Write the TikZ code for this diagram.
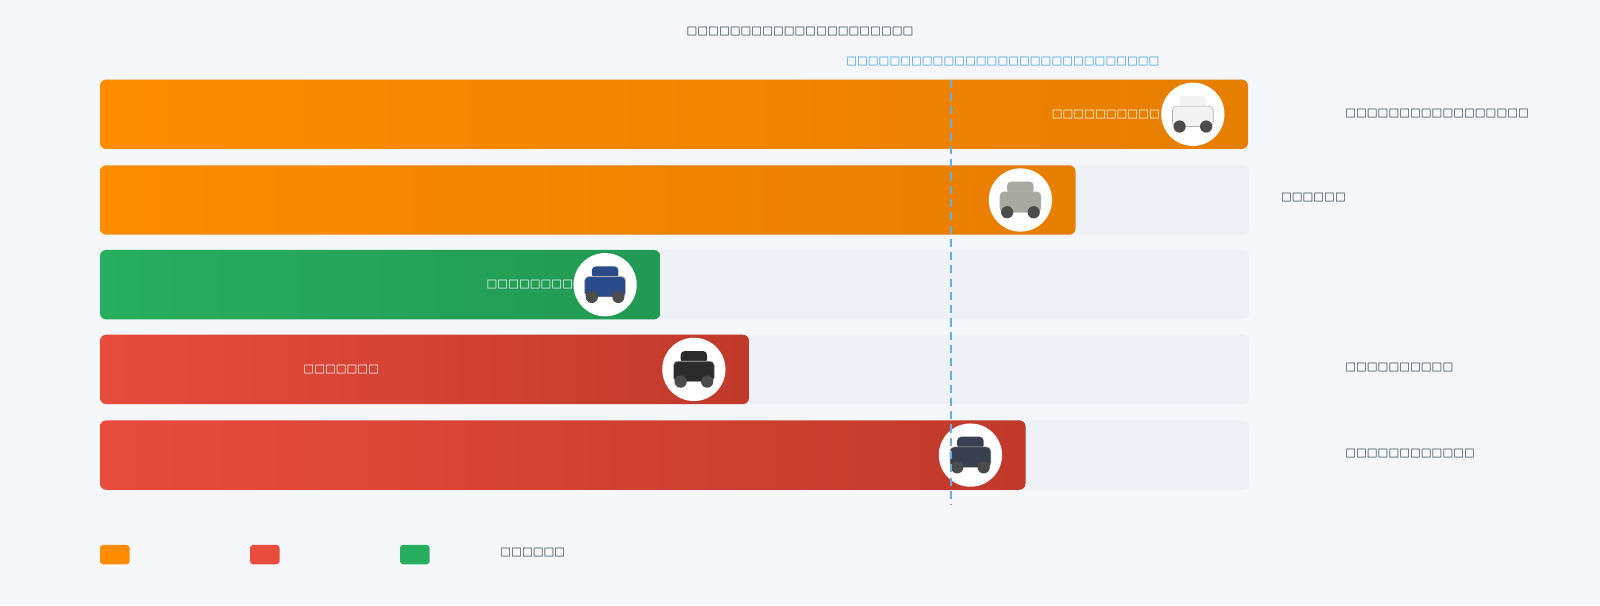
\documentclass[tikz,border=0pt]{standalone}
\usepackage{fontspec}
\setmainfont{DejaVu Sans}
\begin{document}
\begin{tikzpicture}[x=0.5pt,y=-0.5pt,
  txt/.style={font=\fontsize{5.6}{6}\selectfont,inner sep=0pt},
  dark/.style={txt,text=textdark},
  wht/.style={txt,text=white},
  track/.style={fill=trackc,rounded corners=3pt},
  pic/.style={circle,fill=white,minimum size=31pt,inner sep=0pt},
  leg/.style={rounded corners=1.5pt}]
\definecolor{bg}{HTML}{F5F7FA}
\definecolor{trackc}{HTML}{EEF2F6}
\definecolor{textdark}{HTML}{2C3E50}
\definecolor{blu}{HTML}{3498DB}
\definecolor{dline}{HTML}{6AAEDD}
\definecolor{oa}{HTML}{FF8C00}\definecolor{ob}{HTML}{E67E00}
\definecolor{ga}{HTML}{27AE60}\definecolor{gb}{HTML}{229954}
\definecolor{ra}{HTML}{E74C3C}\definecolor{rb}{HTML}{C0392B}
\definecolor{c1}{HTML}{F2F2F2}\definecolor{c2}{HTML}{A9A9A4}
\definecolor{c3}{HTML}{2A4A8A}\definecolor{c4}{HTML}{2B2B2B}
\definecolor{c5}{HTML}{3A4050}
\fill[bg] (0,0) rectangle (1568,593);
\useasboundingbox (0,0) rectangle (1568,593);
\node[dark] (title) at (784,31) {□□□□□□□□□□□□□□□□□□□□□};
\node[txt,text=blu,anchor=west] (sub) at (829,60) {□□□□□□□□□□□□□□□□□□□□□□□□□□□□□};
% tracks
\foreach \y in {78,162,245,328,412}{\fill[track] (98,\y) rectangle (1224,\y+68);}
% bars
\shade[left color=oa,right color=ob,rounded corners=3pt] (98,78) rectangle (1223,146);
\shade[left color=oa,right color=ob,rounded corners=3pt] (98,162) rectangle (1054,230);
\shade[left color=ga,right color=gb,rounded corners=3pt] (98,245) rectangle (647,313);
\shade[left color=ra,right color=rb,rounded corners=3pt] (98,328) rectangle (734,396);
\shade[left color=ra,right color=rb,rounded corners=3pt] (98,412) rectangle (1005,480);
% pictures
\foreach \n/\x/\y/\c in {p1/1169/112/c1,p2/1000/196/c2,p3/593/279/c3,p4/680/362/c4,p5/951/446/c5}{
  \node[pic] (\n) at (\x,\y) {};
  \fill[\c,rounded corners=2pt] (\x-20,\y-8) rectangle (\x+20,\y+12);
  \fill[\c,rounded corners=2pt] (\x-13,\y-18) rectangle (\x+13,\y-6);
  \draw[gray!60,line width=0.3pt,rounded corners=2pt] (\x-20,\y-8) rectangle (\x+20,\y+12);
  \fill[black!70] (\x-13,\y+12) circle (3pt) (\x+13,\y+12) circle (3pt);
}
% dashed line
\coordinate (dt) at (932,78); \coordinate (db) at (932,495);
\draw[dline,line width=1pt,dash pattern=on 4pt off 2.5pt] (dt) -- (db);
% labels
\node[wht,anchor=east] (l1) at (1137,112) {□□□□□□□□□□};
\node[wht,anchor=east] (l3) at (562,279) {□□□□□□□□};
\node[wht,anchor=west] (l4) at (297,362) {□□□□□□□};
\node[dark,anchor=west] (r1) at (1318,111) {□□□□□□□□□□□□□□□□□};
\node[dark,anchor=west] (r2) at (1255,194) {□□□□□□};
\node[dark,anchor=west] (r4) at (1318,360) {□□□□□□□□□□};
\node[dark,anchor=west] (r5) at (1318,444) {□□□□□□□□□□□□};
% legend
\fill[oa,leg] (98,534) rectangle (127,553);
\fill[ra,leg] (245,534) rectangle (274,553);
\fill[ga,leg] (392,534) rectangle (421,553);
\node[dark,anchor=west] (lg) at (490,541) {□□□□□□};
\end{tikzpicture}
\end{document}
